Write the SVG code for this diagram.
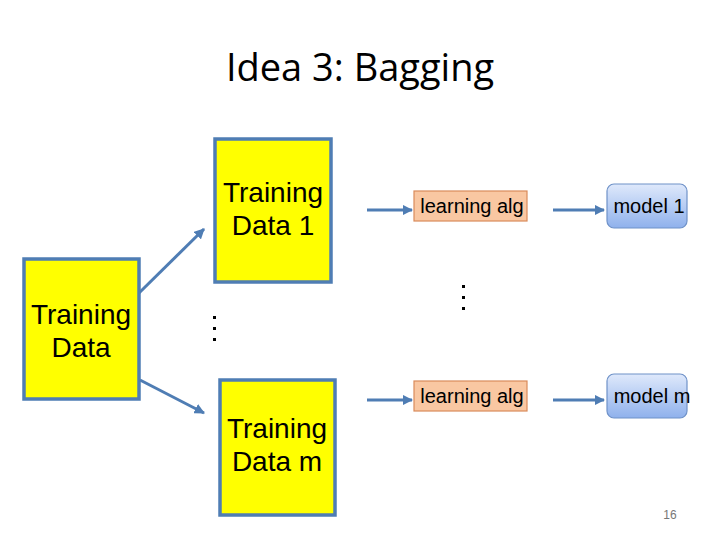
<svg xmlns="http://www.w3.org/2000/svg" width="720" height="540" viewBox="0 0 720 540">
<style>
.data{fill:#ffff00;stroke:#4f7db4;stroke-width:3.5}
.dt{font-family:"Liberation Sans",Arial,sans-serif;font-size:28px;fill:#000;text-anchor:middle}
.alg{fill:#f9c7a2;stroke:#d98b5b;stroke-width:1.2}
.at{font-family:"Liberation Sans",Arial,sans-serif;font-size:20px;fill:#000;text-anchor:middle}
.model{fill:url(#mg);stroke:#6f92c8;stroke-width:1.2}
.conn{stroke:#4f7db4;stroke-width:3;fill:none;marker-end:url(#ah)}
.dot{fill:#000}
</style>
<defs>
<linearGradient id="mg" x1="0" y1="0" x2="0" y2="1">
<stop offset="0" stop-color="#dfe9fb"/>
<stop offset="1" stop-color="#8fb1ec"/>
</linearGradient>
<marker id="ah" viewBox="0 0 10 10" refX="9" refY="5" markerWidth="3.5" markerHeight="3.5" orient="auto" markerUnits="strokeWidth">
<path d="M0,0 L10,5 L0,10 z" fill="#4f7db4"/>
</marker>
</defs>
<rect width="720" height="540" fill="#fff"/>
<text x="360" y="81" font-family="'Open Sans','Noto Sans',sans-serif" font-size="38" text-anchor="middle" fill="#000">Idea 3: Bagging</text>

<g id="training-data">
<rect class="data" x="24" y="259" width="115" height="140"/>
<text class="dt" x="81" y="324">Training</text>
<text class="dt" x="81" y="357">Data</text>
</g>
<g id="training-data-1">
<rect class="data" x="215" y="139" width="116" height="143"/>
<text class="dt" x="273" y="202">Training</text>
<text class="dt" x="273" y="235">Data 1</text>
</g>
<g id="training-data-m">
<rect class="data" x="220" y="380" width="115" height="135"/>
<text class="dt" x="277" y="438">Training</text>
<text class="dt" x="277" y="471">Data m</text>
</g>
<g id="learning-alg-1">
<rect class="alg" x="414" y="191" width="113" height="30"/>
<text class="at" x="472" y="213">learning alg</text>
</g>
<g id="learning-alg-m">
<rect class="alg" x="414" y="381" width="113" height="30"/>
<text class="at" x="472" y="403">learning alg</text>
</g>
<g id="model-1">
<rect class="model" x="607" y="184" width="80" height="44" rx="7"/>
<text class="at" x="649" y="213">model 1</text>
</g>
<g id="model-m">
<rect class="model" x="607" y="374" width="80" height="44" rx="7"/>
<text class="at" x="652" y="403">model m</text>
</g>
<g id="dots">
<rect class="dot" x="213" y="316" width="3" height="3"/>
<rect class="dot" x="213" y="327" width="3" height="3"/>
<rect class="dot" x="213" y="338" width="3" height="3"/>
<rect class="dot" x="462" y="285" width="3" height="3"/>
<rect class="dot" x="462" y="296" width="3" height="3"/>
<rect class="dot" x="462" y="307" width="3" height="3"/>
</g>
<g id="connectors">
<line class="conn" x1="139" y1="293" x2="204" y2="229"/>
<line class="conn" x1="140" y1="380" x2="204" y2="413"/>
<line class="conn" x1="367" y1="210" x2="412" y2="210"/>
<line class="conn" x1="553" y1="210" x2="604" y2="210"/>
<line class="conn" x1="367" y1="400" x2="412" y2="400"/>
<line class="conn" x1="553" y1="400" x2="604" y2="400"/>
</g>
<text x="670" y="519" font-family="'Liberation Sans',Arial,sans-serif" font-size="12" fill="#777" text-anchor="middle">16</text>
</svg>
